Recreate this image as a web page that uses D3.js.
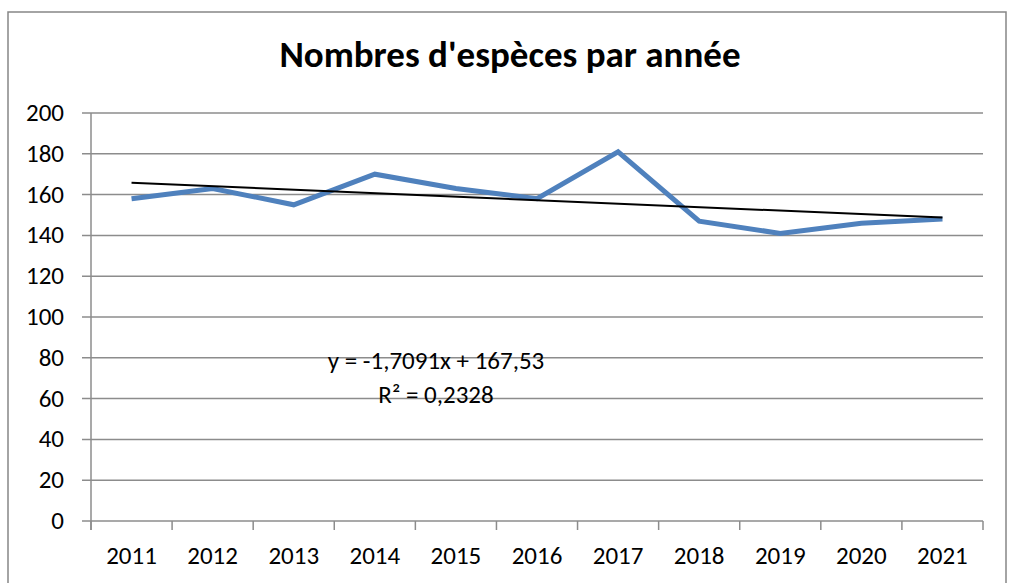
<!DOCTYPE html>
<html>
<head>
<meta charset="utf-8">
<script src="https://cdn.jsdelivr.net/npm/d3@7"></script>
<style>
  body { margin: 0; background: #fff; }
  text { font-family: Carlito, Calibri, Lato, "Open Sans", sans-serif; }
</style>
</head>
<body>
<div id="chart"></div>
<script>
// Data
var years = ['2011','2012','2013','2014','2015','2016','2017','2018','2019','2020','2021'];
var especes = [158, 163, 155, 170, 163, 158, 181, 147, 141, 146, 148];
var yTicks = [0, 20, 40, 60, 80, 100, 120, 140, 160, 180, 200];
var titre = "Nombres d'espèces par année";
var equation = ['y = -1,7091x + 167,53', 'R² = 0,2328'];

var W = 1010, H = 583;
var svg = d3.select('#chart').append('svg').attr('width', W).attr('height', H);

// outer border
svg.append('rect').attr('x', 8).attr('y', 12).attr('width', 998).attr('height', 600)
  .attr('fill', 'none').attr('stroke', '#868686').attr('stroke-width', 1.5);

var plot = {left: 91, right: 983, top: 113, bottom: 521};

var xScale = d3.scaleBand().domain(years).range([plot.left, plot.right]);
var yScale = d3.scaleLinear().domain([0, 200]).range([plot.bottom, plot.top]);

// gridlines
svg.selectAll('line.grid').data(yTicks).enter().append('line')
  .attr('x1', plot.left - 9).attr('x2', plot.right)
  .attr('y1', d => yScale(d)).attr('y2', d => yScale(d))
  .attr('stroke', '#8c8c8c').attr('stroke-width', 1.5);

// y axis line
svg.append('line').attr('x1', plot.left).attr('x2', plot.left)
  .attr('y1', plot.top).attr('y2', plot.bottom + 9)
  .attr('stroke', '#8c8c8c').attr('stroke-width', 1.5);

// x category ticks
var xEdges = years.map(d => xScale(d)).concat([plot.right]);
svg.selectAll('line.xtick').data(xEdges).enter().append('line')
  .attr('x1', d => d).attr('x2', d => d)
  .attr('y1', plot.bottom).attr('y2', plot.bottom + 9)
  .attr('stroke', '#8c8c8c').attr('stroke-width', 1.5);

// y labels
svg.selectAll('text.ylab').data(yTicks).enter().append('text')
  .attr('x', 64).attr('y', d => yScale(d) + 8)
  .attr('text-anchor', 'end').attr('font-size', 25).attr('fill', '#000')
  .text(d => d);

// x labels
svg.selectAll('text.xlab').data(years).enter().append('text')
  .attr('x', d => xScale(d) + xScale.bandwidth() / 2).attr('y', 564)
  .attr('text-anchor', 'middle').attr('font-size', 25).attr('fill', '#000')
  .text(d => d);

// series line
var cx = d => xScale(d) + xScale.bandwidth() / 2;
var line = d3.line().x((d, i) => cx(years[i])).y(d => yScale(d));
svg.append('path').datum(especes).attr('d', line)
  .attr('fill', 'none').attr('stroke', '#4f81bd').attr('stroke-width', 5)
  .attr('stroke-linejoin', 'miter');

// linear trend (least squares on index 1..n)
var n = especes.length;
var xs = especes.map((d, i) => i + 1);
var mx = d3.mean(xs), my = d3.mean(especes);
var slope = d3.sum(xs, (x, i) => (x - mx) * (especes[i] - my)) / d3.sum(xs, x => (x - mx) * (x - mx));
var icpt = my - slope * mx;
svg.append('line')
  .attr('x1', cx(years[0])).attr('y1', yScale(icpt + slope * 1))
  .attr('x2', cx(years[n - 1])).attr('y2', yScale(icpt + slope * n))
  .attr('stroke', '#000').attr('stroke-width', 2);

// equation label
svg.selectAll('text.eq').data(equation).enter().append('text')
  .attr('x', 436).attr('y', (d, i) => 369 + i * 34)
  .attr('text-anchor', 'middle').attr('font-size', 25).attr('fill', '#000')
  .text(d => d);

// title
svg.append('text').attr('x', 510).attr('y', 67)
  .attr('text-anchor', 'middle').attr('font-size', 37).attr('font-weight', 'bold')
  .attr('fill', '#000').text(titre);
</script>
</body>
</html>
